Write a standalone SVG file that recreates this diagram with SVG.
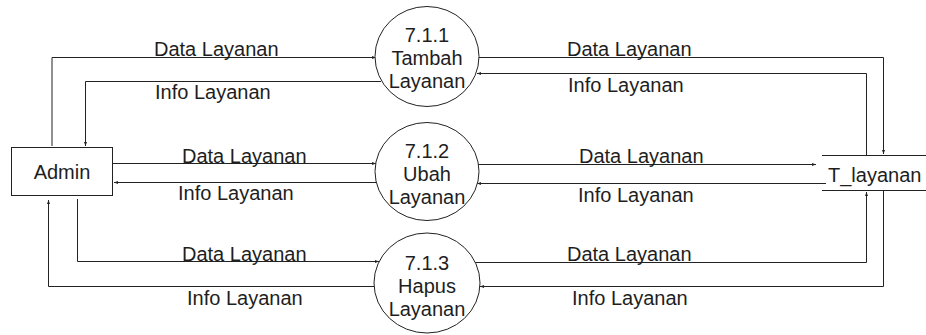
<svg xmlns="http://www.w3.org/2000/svg" width="926" height="335" viewBox="0 0 926 335">
<style>
.t{font-family:"Liberation Sans",Arial,sans-serif;font-size:20px;fill:#1e1e1e}
.c{text-anchor:middle}
.ln{fill:none;stroke:#222;stroke-width:1}
.sh{fill:#fff;stroke:#222;stroke-width:1}
</style>
<defs>
<marker id="ar" markerUnits="userSpaceOnUse" markerWidth="4" markerHeight="4" refX="4" refY="2" orient="auto">
<path d="M0,0.5 L4,2 L0,3.5 z" fill="#222"/>
</marker>
</defs>
<rect width="926" height="335" fill="#fff"/>
<g id="connectors">
<path class="ln" d="M52,146 V57.5 H376" marker-end="url(#ar)"/>
<path class="ln" d="M381,81.5 H85.5 V146" marker-end="url(#ar)"/>
<path class="ln" d="M113,163.5 H376" marker-end="url(#ar)"/>
<path class="ln" d="M377,182.5 H114" marker-end="url(#ar)"/>
<path class="ln" d="M77.5,199 V261.5 H379" marker-end="url(#ar)"/>
<path class="ln" d="M375,286.5 H48.5 V200" marker-end="url(#ar)"/>
<path class="ln" d="M478,57.5 H883.5 V154" marker-end="url(#ar)"/>
<path class="ln" d="M866.5,155 V73.5 H477" marker-end="url(#ar)"/>
<path class="ln" d="M478,164.5 H816" marker-end="url(#ar)"/>
<path class="ln" d="M826,183.5 H477" marker-end="url(#ar)"/>
<path class="ln" d="M475,262.5 H866.5 V192" marker-end="url(#ar)"/>
<path class="ln" d="M883.5,191 V286.5 H480" marker-end="url(#ar)"/>
<text class="t" x="154" y="56">Data Layanan</text>
<text class="t" x="155" y="99">Info Layanan</text>
<text class="t" x="182" y="163">Data Layanan</text>
<text class="t" x="178" y="200">Info Layanan</text>
<text class="t" x="182" y="261">Data Layanan</text>
<text class="t" x="187" y="305">Info Layanan</text>
<text class="t" x="567" y="56">Data Layanan</text>
<text class="t" x="568" y="92">Info Layanan</text>
<text class="t" x="579" y="163">Data Layanan</text>
<text class="t" x="578" y="202">Info Layanan</text>
<text class="t" x="567" y="261">Data Layanan</text>
<text class="t" x="572" y="305">Info Layanan</text>
</g>
<g id="admin">
<rect class="sh" x="11.5" y="147.5" width="101" height="48"/>
<text class="t c" x="62" y="179">Admin</text>
</g>
<g id="t_layanan">
<path class="ln" d="M822,155.5 H926 M822,190.5 H926"/>
<text class="t" x="828" y="182">T_layanan</text>
</g>
<g id="p711">
<ellipse class="sh" cx="427" cy="56.5" rx="52" ry="50"/>
<text class="t c" x="427" y="42">7.1.1</text>
<text class="t c" x="427" y="65">Tambah</text>
<text class="t c" x="427" y="88">Layanan</text>
</g>
<g id="p712">
<ellipse class="sh" cx="427" cy="171.5" rx="52" ry="49"/>
<text class="t c" x="427" y="158">7.1.2</text>
<text class="t c" x="427" y="181">Ubah</text>
<text class="t c" x="427" y="204">Layanan</text>
</g>
<g id="p713">
<ellipse class="sh" cx="427" cy="283" rx="53" ry="50"/>
<text class="t c" x="427" y="270">7.1.3</text>
<text class="t c" x="427" y="293">Hapus</text>
<text class="t c" x="427" y="316">Layanan</text>
</g>
</svg>
